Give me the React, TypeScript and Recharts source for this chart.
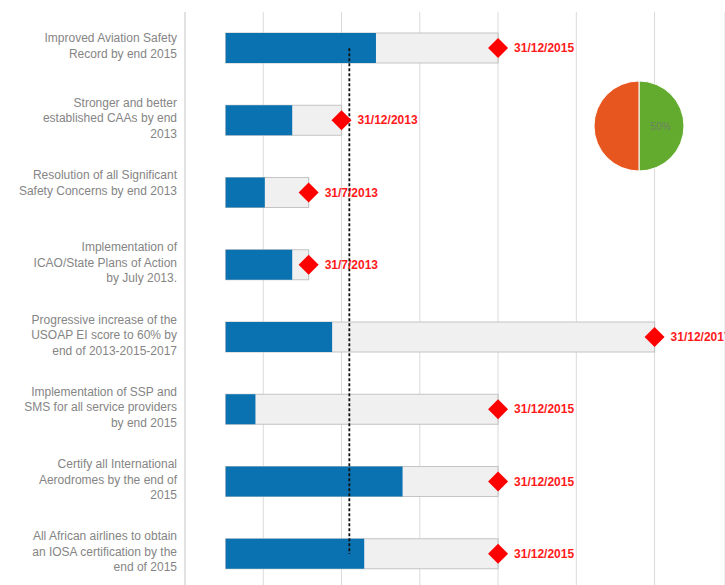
import React from 'react';
import {
  ComposedChart,
  Bar,
  XAxis,
  YAxis,
  CartesianGrid,
  ReferenceLine,
  LabelList,
  PieChart,
  Pie,
  Cell,
} from 'recharts';

// Goals (category axis). "\n" breaks the label into lines.
const goals = [
  'Improved Aviation Safety\nRecord by end 2015',
  'Stronger and better\nestablished CAAs by end\n2013',
  'Resolution of all Significant\nSafety Concerns by end 2013\n',
  'Implementation of\nICAO/State Plans of Action\nby July 2013.',
  'Progressive increase of the\nUSOAP EI score to 60% by\nend of 2013-2015-2017',
  'Implementation of SSP and\nSMS for all service providers\nby end 2015',
  'Certify all International\nAerodromes by the end of\n2015',
  'All African airlines to obtain\nan IOSA certification by the\nend of 2015',
];

// Values in years after 31/12/2011
const startYears = [0.52, 0.52, 0.52, 0.52, 0.52, 0.52, 0.52, 0.52];
const progressYears = [2.44, 1.37, 1.02, 1.37, 1.88, 0.9, 2.78, 2.29];
const targetYears = [4.0, 2.0, 1.58, 1.58, 6.0, 4.0, 4.0, 4.0];
const targetLabels = [
  '31/12/2015',
  '31/12/2013',
  '31/7/2013',
  '31/7/2013',
  '31/12/2017',
  '31/12/2015',
  '31/12/2015',
  '31/12/2015',
];
const todayYear = 2.1;
const yearTicks = [0, 1, 2, 3, 4, 5, 6];

const pieNames = ['Achieved', 'Remaining'];
const pieValues = [50, 50];
const pieColors = ['#63AB2F', '#E8561F'];

const data = goals.map((g, i) => ({
  goal: g,
  plan: [startYears[i], targetYears[i]],
  done: [startYears[i], progressYears[i]],
  target: targetLabels[i],
}));

const pieData = pieNames.map((n, i) => ({ name: n, value: pieValues[i] }));

const FONT = '"Liberation Sans", Arial, sans-serif';

const GoalTick = (props: any) => {
  const { x, y, payload } = props;
  const lines = String(payload.value).split('\n');
  const lh = 15.5;
  const y0 = y - ((lines.length - 1) * lh) / 2;
  return (
    <text x={x} y={y0} textAnchor="end" fill="#858585" fontSize={12} fontFamily={FONT}>
      {lines.map((l, i) => (
        <tspan key={i} x={x} dy={i === 0 ? 2 : lh}>
          {l}
        </tspan>
      ))}
    </text>
  );
};

const TargetMark = (props: any) => {
  const vb = props.viewBox && props.viewBox.width !== undefined ? props.viewBox : props;
  const { x, y, width, height } = vb;
  const cx = x + width;
  const cy = y + height / 2;
  const r = 10;
  return (
    <g>
      <path d={`M${cx},${cy - r}L${cx + r},${cy}L${cx},${cy + r}L${cx - r},${cy}Z`} fill="#ff0000" />
      <text x={cx + 16} y={cy + 4} fill="#ff1a1a" fontSize={12} fontWeight="bold" fontFamily={FONT}>
        {props.value}
      </text>
    </g>
  );
};

const PieLabel = (props: any) => {
  const { cx, cy, midAngle, outerRadius, index, percent } = props;
  if (index !== 0) return null;
  const rad = (Math.PI / 180) * midAngle;
  const r = outerRadius * 0.48;
  const tx = cx + r * Math.cos(rad);
  const ty = cy - r * Math.sin(rad);
  return (
    <text x={tx} y={ty + 3.5} textAnchor="middle" fill="#6f7f66" fontSize={10} fontFamily={FONT}>
      {`${Math.round(percent * 100)}%`}
    </text>
  );
};

export default function App() {
  return (
    <div
      style={{
        position: 'fixed',
        left: 0,
        top: 0,
        width: 725,
        height: 585,
        overflow: 'hidden',
        background: '#fff',
      }}
    >
      <ComposedChart
        width={725}
        height={592}
        layout="vertical"
        data={data}
        margin={{ top: 12, right: 0, bottom: 2, left: 0 }}
        barGap={-30}
      >
        <CartesianGrid horizontal={false} vertical stroke="#dadada" />
        <XAxis type="number" domain={[0, 6.9]} ticks={yearTicks} hide />
        <YAxis
          type="category"
          dataKey="goal"
          width={185}
          interval={0}
          tickLine={false}
          axisLine={{ stroke: '#d6d6d6' }}
          tick={<GoalTick />}
        />
        <Bar
          dataKey="plan"
          barSize={30}
          fill="#f0f0f0"
          stroke="#c4c4c4"
          strokeWidth={1.2}
          isAnimationActive={false}
        >
          <LabelList dataKey="target" content={<TargetMark />} />
        </Bar>
        <Bar dataKey="done" barSize={30} fill="#0a72b0" isAnimationActive={false} />
        <ReferenceLine
          segment={[
            { x: todayYear, y: goals[0] },
            { x: todayYear, y: goals[goals.length - 1] },
          ]}
          stroke="#111"
          strokeWidth={1.8}
          strokeDasharray="3 2"
        />
      </ComposedChart>
      <div style={{ position: 'absolute', left: 584, top: 71 }}>
        <PieChart width={100} height={100}>
          <Pie
            data={pieData}
            dataKey="value"
            nameKey="name"
            cx={50}
            cy={50}
            outerRadius={45}
            startAngle={90}
            endAngle={-270}
            stroke="#ffffff"
            strokeWidth={1}
            label={PieLabel}
            labelLine={false}
            isAnimationActive={false}
          >
            {pieData.map((d, i) => (
              <Cell key={d.name} fill={pieColors[i]} />
            ))}
          </Pie>
        </PieChart>
      </div>
    </div>
  );
}
